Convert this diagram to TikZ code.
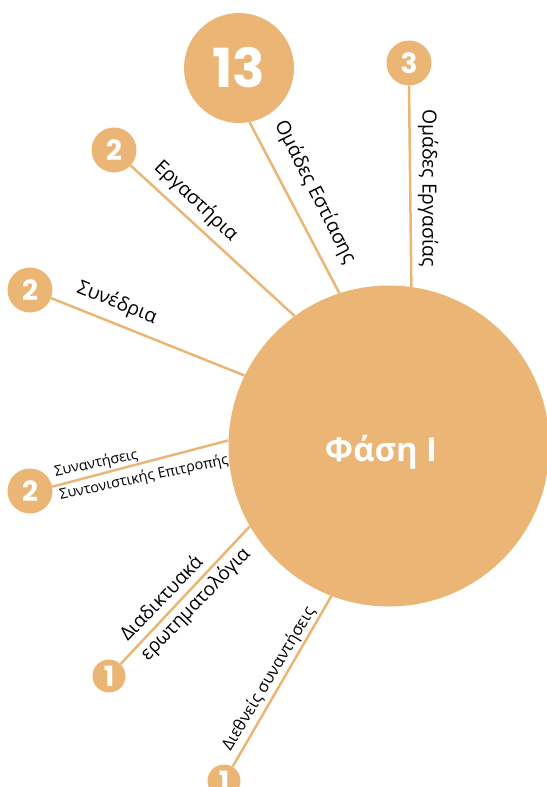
\documentclass[tikz,border=0pt]{standalone}
\usepackage{fontspec}
\setmainfont{Open Sans}
\newfontfamily\numfont{Poppins}
\definecolor{phase}{RGB}{235,182,117}
\begin{document}
\begin{tikzpicture}[x=1bp,y=1bp,
  bubble/.style={circle, fill=phase, text=white, inner sep=0pt, minimum size=#1},
  link/.style={draw=phase, line width=2.5bp},
  lbl/.style={font=\fontsize{19.5}{23}\selectfont, inner sep=0pt, text=black},
  lblsmall/.style={font=\fontsize{14.5}{24}\selectfont, inner sep=0pt, text=black},
  num/.style={font=\numfont\bfseries\fontsize{28}{28}\selectfont}]
\useasboundingbox (0,0) rectangle (547,-787);
% main circle
\node[bubble=321bp] (main) at (389,-446) {};
\node[text=white, font=\bfseries\fontsize{33}{33}\selectfont] (maintext) at (381,-452) {Φάση Ι};
% satellites
\node[bubble=110bp, font=\numfont\bfseries\fontsize{54}{54}\selectfont] (c13) at (239,-68) {13};
\node[bubble=45bp, num] (c3) at (409,-63) {3};
\node[bubble=45bp, num] (cerg) at (114,-150) {2};
\node[bubble=45bp, num] (csyn) at (30,-290) {2};
\node[bubble=45bp, num] (csc) at (30,-491) {2};
\node[bubble=33bp, num] (cdiad) at (109,-676) {1};
\node[bubble=33bp, num] (cdie) at (224,-781) {1};
% connectors
\draw[link] (c13.-79.8) -- (main.108.9);
\draw[link] (c3.south) -- (main.82.8);
\draw[link] (cerg.-43.2) -- (main.126.9);
\draw[link] (csyn.-21.8) -- (main.154.1);
\draw[link] (csc.11.7) -- (main.178.6);
\draw[link] (cdiad.46.4) -- (main.210.4);
\draw[link] (cdie.59.4) -- (main.249.4);
% labels
\node[lbl, rotate=-63.2] (l13) at (315,-192) {Ομάδες Εστίασης};
\node[lbl, rotate=-90] (l3) at (428,-188) {Ομάδες Εργασίας};
\node[lbl, rotate=-43.5] (lerg) at (196,-201) {Εργαστήρια};
\node[lbl, rotate=-22] (lsyn) at (117,-303) {Συνέδρια};
\node[lblsmall, rotate=12, anchor=west, align=left] (lsc) at (57,-484) {Συναντήσεις\\Συντονιστικής Επιτροπής};
\node[lbl, rotate=46, anchor=west, align=left, font=\fontsize{19}{28}\selectfont] (ldiad) at (134,-648) {Διαδικτυακά\\ερωτηματολόγια};
\node[lbl, rotate=59, font=\fontsize{16.5}{20}\selectfont] (ldie) at (269,-679) {Διεθνείς συναντήσεις};
\end{tikzpicture}
\end{document}
